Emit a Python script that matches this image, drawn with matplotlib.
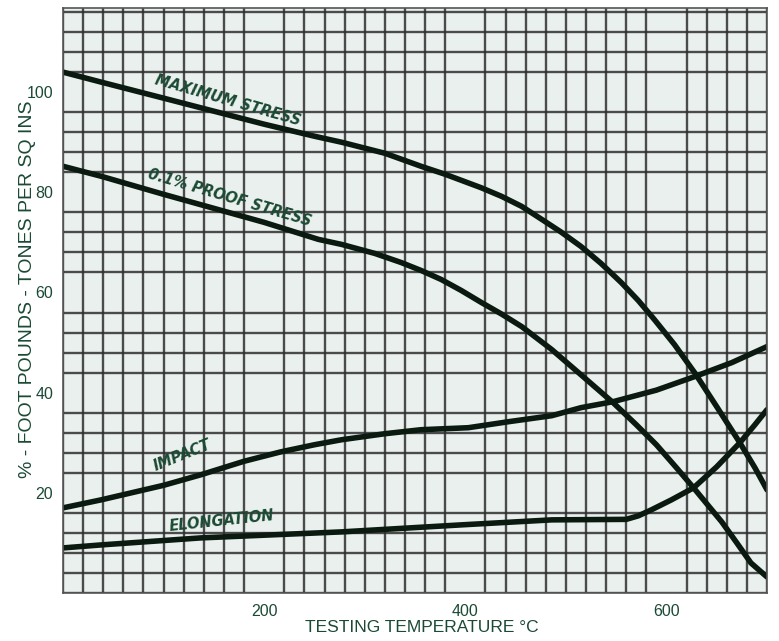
import matplotlib.pyplot as plt
import numpy as np

# curve readings (temperature °C, value)
max_stress_t = [0, 38, 100, 150, 200, 250, 277, 320, 356, 380, 404, 416, 436, 456, 476, 495, 515, 535, 555, 572, 588, 608, 628, 650, 673, 688, 700]
max_stress_v = [104, 102, 98.8, 96.2, 93.6, 91.2, 90, 87.8, 85.2, 83.6, 81.8, 80.9, 79.2, 77.2, 74.6, 72.1, 69.2, 65.8, 62, 58.4, 54.6, 49.6, 44, 37.2, 30, 25, 20.6]

proof_t = [0, 38, 100, 150, 200, 254, 277, 310, 336, 356, 376, 396, 416, 436, 456, 486, 516, 547, 570, 590, 610, 627, 655, 670, 684, 700]
proof_v = [85.2, 83.2, 79.6, 76.8, 74, 70.6, 69.6, 67.8, 66, 64.4, 62.6, 60.4, 58, 55.7, 53.2, 48.6, 43.4, 38, 33.6, 29.6, 25, 21, 14.2, 10, 6, 3.2]

impact_t = [0, 38, 100, 137, 180, 217, 250, 277, 320, 356, 403, 443, 486, 515, 547, 590, 628, 665, 700]
impact_v = [17, 18.6, 21.5, 23.6, 26.3, 28.2, 29.6, 30.6, 31.8, 32.6, 33, 34.2, 35.4, 37, 38.2, 40.5, 43.2, 46, 49.2]

elong_t = [0, 38, 137, 277, 396, 486, 560, 572, 585, 605, 627, 650, 673, 688, 700]
elong_v = [9, 9.6, 11, 12.2, 13.6, 14.6, 14.7, 15.4, 16.6, 18.6, 21, 25.2, 30, 33.6, 36.6]

x_ticks = [200, 400, 600]
y_ticks = [20, 40, 60, 80, 100]

ink = '#1b4a34'
curve = '#0b1a10'

fig = plt.figure(figsize=(7.79, 6.41), dpi=100)
ax = fig.add_axes([0.0809, 0.0749, 0.9037, 0.9126])
ax.set_facecolor('#eaf0ee')

ax.set_xlim(0, 700)
ax.set_ylim(0, 116.8)

# graph paper grid
ax.set_xticks(np.arange(0, 701, 20), minor=True)
ax.set_yticks(np.arange(0, 117, 4), minor=True)
ax.grid(which='minor', color='#2e2e2e', linewidth=1.7, alpha=0.85)
ax.set_axisbelow(True)

ax.set_xticks(x_ticks)
ax.set_yticks(y_ticks)
ax.tick_params(which='both', length=0)
ax.tick_params(axis='x', pad=8, labelsize=11.5, labelcolor=ink)
ax.tick_params(axis='y', pad=7, labelsize=11.5, labelcolor=ink)
for lab in ax.get_xticklabels() + ax.get_yticklabels():
    lab.set_family('Liberation Sans')

for s in ax.spines.values():
    s.set_color('#555555')
    s.set_linewidth(1.2)

for t, v in [(max_stress_t, max_stress_v), (proof_t, proof_v),
             (impact_t, impact_v), (elong_t, elong_v)]:
    ax.plot(t, v, color=curve, linewidth=4, solid_capstyle='round', solid_joinstyle='round')

lbl = dict(color=ink, fontsize=10.5, fontweight='bold', fontstyle='italic',
           family='DejaVu Sans', ha='center', va='center', rotation_mode='anchor')
ax.text(164, 98.4, 'MAXIMUM STRESS', rotation=-16, **lbl)
ax.text(166, 79.0, '0.1% PROOF STRESS', rotation=-16.5, **lbl)
ax.text(119, 27.4, 'IMPACT', rotation=22, **lbl)
ax.text(158, 14.4, 'ELONGATION', rotation=6, **lbl)

ax.set_xlabel('TESTING TEMPERATURE °C', fontsize=12.5, color=ink,
              family='Liberation Sans')
ax.set_ylabel('% - FOOT POUNDS - TONES PER SQ INS', fontsize=14, color=ink,
              family='Liberation Sans')
ax.xaxis.set_label_coords(0.51, -0.046)
ax.yaxis.set_label_coords(-0.039, 0.52)

fig.savefig('out.png', dpi=100, facecolor='white')
